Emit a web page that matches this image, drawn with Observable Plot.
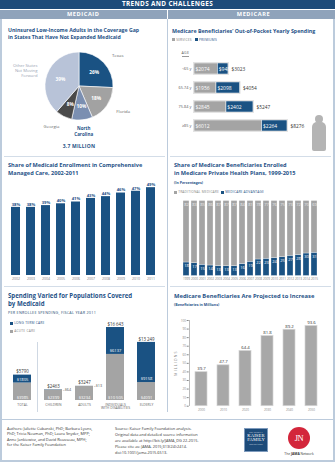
<!DOCTYPE html>
<html><head><meta charset="utf-8">
<script src="https://cdn.jsdelivr.net/npm/d3@7"></script>
<script src="https://cdn.jsdelivr.net/npm/@observablehq/plot@0.6"></script>
<style>
body{margin:0;background:#fff;}
#c{position:relative;width:335px;height:462px;overflow:hidden;font-family:"Open Sans","Noto Sans",sans-serif;background:#fff}
.a{position:absolute;white-space:nowrap;line-height:1}
.sq{display:inline-block;width:3px;height:3px;vertical-align:middle;margin-right:1.2px;position:relative;top:-0.3px}
svg{display:block}
</style></head>
<body><div id="c"></div>
<script>
// ---------- DATA ----------
const pieStates = ["Texas", "Florida", "North\nCarolina", "Georgia", "Other States\nNot Moving\nForward"];
const pieShares = [26, 18, 10, 8, 39];
const pieTotalLabel = "3.7 MILLION";

const oopAges = ["<65 y", "65-74 y", "75-84 y", "≥85 y"];
const oopServices = [2074, 1956, 2845, 6012];
const oopPremiums = [948, 2098, 2402, 2264];
const oopTotals = [3023, 4054, 5247, 8276];

const mcYears = ["2002","2003","2004","2005","2006","2007","2008","2009","2010","2011"];
const mcShares = [38, 38, 39, 40, 41, 43, 44, 46, 47, 49];

const maYears = ["1999","2000","2001","2002","2003","2004","2005","2006","2007","2008","2009","2010","2011","2012","2013","2014","2015"];
const tmShares = [82, 83, 85, 86, 87, 87, 87, 84, 81, 78, 77, 76, 75, 73, 72, 70, 69];
const maShares = [18, 17, 15, 14, 13, 13, 13, 16, 19, 22, 23, 24, 25, 27, 28, 30, 31];

const popGroups = ["TOTAL", "CHILDREN", "ADULTS", "INDIVIDUALS\nWITH DISABILITIES", "ELDERLY"];
const acuteCare = [3985, 2399, 3234, 10505, 4091];
const longTermCare = [1805, 64, 13, 6137, 9158];
const popTotals = [5790, 2463, 3247, 16643, 13249];

const projYears = ["2000", "2010", "2020", "2030", "2040", "2050"];
const projBenef = [39.7, 47.7, 64.4, 81.8, 89.2, 93.6];

// ---------- STYLE ----------
const FONT = "'Open Sans','Noto Sans',sans-serif";
const BLUE = "#1a5283", GRAY = "#a4a4a4", TITLE = "#1f5287", NAVY = "#1d4b7a", LINE = "#bccbdc";
const pieColors = [BLUE, "#a2a2a2", "#7b8fb1", "#4a4a4a", "#b8c3d8"];
const money = v => "$" + (v >= 10000 ? d3.format(",")(v).replace(",", " ") : v);

const C = document.getElementById("c");
function box(left, top, w, h, css) { const d = document.createElement("div"); d.style.cssText = `position:absolute;left:${left}px;top:${top}px;width:${w}px;height:${h}px;${css||""}`; C.appendChild(d); return d; }
function txt(html, left, top, css) { const d = document.createElement("div"); d.className = "a"; d.style.left = left + "px"; d.style.top = top + "px"; d.style.cssText += css || ""; d.innerHTML = html; C.appendChild(d); return d; }
function plotAt(opts, left, top) { const el = Plot.plot(opts); el.style.position = "absolute"; el.style.left = left + "px"; el.style.top = top + "px"; el.style.overflow = "visible"; C.appendChild(el); return el; }
const baseStyle = fs => ({fontFamily: FONT, fontSize: fs + "px", background: "transparent", color: "#777", overflow: "visible"});

// ---------- FRAME ----------
box(0, 0, 335, 8.5, `background:${NAVY}`);
txt("TRENDS AND CHALLENGES", 0, 0, "width:335px;text-align:center;color:#fff;font-weight:700;font-size:6.4px;line-height:8.5px;letter-spacing:0.35px");
box(0, 9.5, 166.5, 9.3, "background:#8fa3bb");
box(168, 9.5, 167, 9.3, "background:#8fa3bb");
txt("MEDICAID", 0, 9.5, "width:166.5px;text-align:center;color:#fff;font-weight:700;font-size:5.6px;line-height:9.3px;letter-spacing:0.6px");
txt("MEDICARE", 170, 9.5, "width:167px;text-align:center;color:#fff;font-weight:700;font-size:5.6px;line-height:9.3px;letter-spacing:0.6px");
box(0, 18.8, 335, 443.2, `border:2px solid ${LINE};border-top:none;box-sizing:border-box`);
box(166.6, 18.8, 1.4, 393, `background:${LINE}`);
box(2, 418.5, 331, 0.9, `background:${LINE}`);
box(4, 156, 161, 0.7, "background:#d3dde8");
box(170, 156, 161, 0.7, "background:#d3dde8");
box(4, 286, 161, 0.7, "background:#d3dde8");
box(170, 286, 161, 0.7, "background:#d3dde8");

// ---------- SECTION 1 LEFT: PIE ----------
txt("Uninsured Low-Income Adults in the Coverage Gap<br>in States That Have Not Expanded Medicaid", 8, 26.5, `font-size:5.2px;line-height:7px;font-weight:700;color:${TITLE}`);
{
  const W = 163, H = 104, ox = 3, oy = 40;
  const pcx = 79 - ox, pcy = 86 - oy, R = 34;
  const pieData = pieStates.map((s, i) => ({state: s, share: pieShares[i], color: pieColors[i]}));
  const arcs = d3.pie().sort(null).value(d => d.share)(pieData);
  const arcPath = d3.arc().innerRadius(0).outerRadius(R);
  const labIn = d3.arc().innerRadius(R * 0.6).outerRadius(R * 0.6);
  const labOut = d3.arc().innerRadius(R * 1.32).outerRadius(R * 1.32);
  const mid = d => (d.startAngle + d.endAngle) / 2;
  const slices = () => {
    const g = d3.create("svg:g").attr("transform", `translate(${pcx},${pcy})`);
    g.selectAll("path").data(arcs).join("path").attr("d", arcPath).attr("fill", d => d.data.color).attr("stroke", "#fff").attr("stroke-width", 0.6);
    return g.node();
  };
  const ox2 = d => pcx + labOut.centroid(d)[0], oy2 = d => pcy + labOut.centroid(d)[1];
  plotAt({
    width: W, height: H, margin: 0,
    x: {type: "identity", axis: null}, y: {type: "identity", axis: null},
    style: baseStyle(4.5),
    marks: [
      slices,
      Plot.text(arcs, {x: d => pcx + labIn.centroid(d)[0], y: d => pcy + labIn.centroid(d)[1], text: d => d.data.share + "%", fill: "#fff", fontWeight: "bold", fontSize: 4.8}),
      Plot.text(arcs.filter(d => mid(d) < Math.PI * 0.85), {x: ox2, y: oy2, text: d => d.data.state, textAnchor: "start", fill: "#666", fontSize: 4.3}),
      Plot.text(arcs.filter(d => mid(d) >= Math.PI * 0.85 && mid(d) < Math.PI * 1.1), {x: ox2, y: oy2, text: d => d.data.state, textAnchor: "middle", fill: TITLE, fontWeight: "bold", fontSize: 4.5, lineHeight: 1.2}),
      Plot.text(arcs.filter(d => mid(d) >= Math.PI * 1.1 && mid(d) < Math.PI * 1.5), {x: ox2, y: oy2, text: d => d.data.state, textAnchor: "end", fill: "#666", fontSize: 4.3}),
      Plot.text(arcs.filter(d => mid(d) >= Math.PI * 1.5), {x: ox2, y: oy2, text: d => d.data.state, textAnchor: "end", fill: "#9aa3b3", fontSize: 4.2, lineHeight: 1.2})
    ]
  }, ox, oy);
  txt(pieTotalLabel, 0, 143.5, `width:158px;text-align:center;font-size:5px;font-weight:700;color:${TITLE};letter-spacing:0.2px`);
}

// ---------- SECTION 1 RIGHT: OUT-OF-POCKET ----------
txt("Medicare Beneficiaries’ Out-of-Pocket Yearly Spending", 172, 27.5, `font-size:5.3px;line-height:7px;font-weight:700;color:${TITLE}`);
txt(`<span class="sq" style="background:${GRAY}"></span>SERVICES &nbsp;&nbsp;<span class="sq" style="background:${BLUE}"></span><span style="color:${TITLE}">PREMIUMS</span>`, 172, 38.5, "font-size:3.2px;line-height:3.5px;color:#777;letter-spacing:0.2px");
txt("AGE", 181.5, 51, "font-size:3.6px;color:#555;letter-spacing:0.3px;line-height:4px;border-bottom:0.5px solid #999;padding-bottom:0.6px");
{
  const oopRows = oopAges.map((age, i) => ({age, services: oopServices[i], premiums: oopPremiums[i], total: oopTotals[i]}));
  const oopLong = oopRows.flatMap(r => [{age: r.age, type: "SERVICES", value: r.services}, {age: r.age, type: "PREMIUMS", value: r.premiums}]);
  plotAt({
    width: 167, height: 90.3, marginTop: 2.8, marginBottom: 0, marginLeft: 26, marginRight: 20,
    x: {domain: [0, 10770], axis: null},
    y: {domain: oopAges, padding: 0.44, tickSize: 0, tickPadding: 3.2, label: null},
    color: {domain: ["SERVICES", "PREMIUMS"], range: [GRAY, BLUE]},
    style: {...baseStyle(3.8), color: "#555"},
    marks: [
      Plot.barX(oopRows, {x: "total", y: "age", fill: "#d2d2d2", insetTop: -0.8, insetBottom: -0.8, insetLeft: -0.8, insetRight: -0.8}),
      Plot.barX(oopLong, Plot.stackX({x: "value", y: "age", fill: "type", stroke: "#fff", strokeWidth: 0.5})),
      Plot.text(oopLong, Plot.stackX1({x: "value", y: "age", text: d => money(d.value), textAnchor: "start", dx: 0.9, fill: "#fff", fontSize: 5})),
      Plot.text(oopRows, {x: "total", y: "age", text: d => money(d.total), textAnchor: "start", dx: 3, fill: "#333", fontSize: 4.8})
    ]
  }, 168, 50);
  // silhouette
  box(314.5, 114.5, 8, 8, "background:#b4b4b4;border-radius:50%");
  box(311.5, 122, 14, 29, "background:#b4b4b4;border-radius:5px 5px 2px 2px");
}

// ---------- SECTION 2 LEFT: MANAGED CARE ----------
txt("Share of Medicaid Enrollment in Comprehensive<br>Managed Care, 2002-2011", 8, 161, `font-size:5.6px;line-height:8px;font-weight:700;color:${TITLE}`);
{
  const mcData = mcYears.map((year, i) => ({year, share: mcShares[i]}));
  plotAt({
    width: 167, height: 103, marginLeft: 5.4, marginRight: 5, marginTop: 0, marginBottom: 8,
    x: {domain: mcYears, padding: 0.37, tickSize: 0, tickPadding: 2, label: null},
    y: {domain: [0, 53], axis: null},
    style: baseStyle(3.5),
    marks: [
      Plot.barY(mcData, {x: "year", y: "share", fill: BLUE}),
      Plot.text(mcData, {x: "year", y: "share", text: d => d.share + "%", dy: -3, fill: TITLE, fontWeight: "bold", fontSize: 4.2})
    ]
  }, 0, 180);
}

// ---------- SECTION 2 RIGHT: MEDICARE ADVANTAGE ----------
txt("Share of Medicare Beneficiaries Enrolled<br>in Medicare Private Health Plans, 1999-2015", 174, 161, `font-size:5.6px;line-height:8px;font-weight:700;color:${TITLE}`);
txt("(In Percentages)", 174, 181, `font-size:3.6px;line-height:4px;font-weight:700;color:${TITLE}`);
txt(`<span class="sq" style="background:${GRAY}"></span>TRADITIONAL MEDICARE &nbsp;<span class="sq" style="background:${BLUE}"></span><span style="color:${TITLE}">MEDICARE ADVANTAGE</span>`, 174, 190.3, "font-size:3.3px;line-height:3.6px;color:#888;letter-spacing:0.15px");
{
  const maRows = maYears.map((year, i) => ({year, tm: tmShares[i], ma: maShares[i]}));
  const maLong = maRows.flatMap(r => [{year: r.year, type: "MEDICARE ADVANTAGE", value: r.ma}, {year: r.year, type: "TRADITIONAL MEDICARE", value: r.tm}]);
  plotAt({
    width: 167, height: 86, marginLeft: 4.4, marginRight: 8, marginTop: 2.5, marginBottom: 8.5,
    x: {domain: maYears, padding: 0.26, tickSize: 0, tickPadding: 2, label: null},
    y: {domain: [0, 100], axis: null},
    color: {domain: ["TRADITIONAL MEDICARE", "MEDICARE ADVANTAGE"], range: [GRAY, BLUE]},
    style: baseStyle(3.1),
    marks: [
      Plot.barY(maLong, Plot.stackY({x: "year", y: "value", fill: "type", stroke: "#fff", strokeWidth: 0.3})),
      Plot.text(maRows, {x: "year", y: d => d.tm + d.ma, text: "tm", dy: 3.6, fill: "#ececec", fontSize: 4.1}),
      Plot.text(maRows, {x: "year", y: "ma", text: "ma", dy: 3.6, fill: "#fff", fontSize: 4.1})
    ]
  }, 168, 198);
}

// ---------- SECTION 3 LEFT: SPENDING BY POPULATION ----------
txt("Spending Varied for Populations Covered<br>by Medicaid", 8, 292, `font-size:6.1px;line-height:7.5px;font-weight:700;color:${TITLE}`);
txt("PER ENROLLEE SPENDING, FISCAL YEAR 2011", 8, 311.2, "font-size:3.7px;line-height:4px;color:#2b4d73;letter-spacing:0.28px");
txt(`<span class="sq" style="background:${BLUE}"></span>LONG TERM CARE`, 10, 321.3, `font-size:3.3px;line-height:3.6px;color:${TITLE};letter-spacing:0.2px`);
txt(`<span class="sq" style="background:${GRAY}"></span>ACUTE CARE`, 10, 329.3, "font-size:3.3px;line-height:3.6px;color:#888;letter-spacing:0.2px");
{
  const popRows = popGroups.map((g, i) => ({group: g, acute: acuteCare[i], ltc: longTermCare[i], total: popTotals[i]}));
  const popLong = popRows.flatMap(r => [{group: r.group, type: "ACUTE CARE", value: r.acute}, {group: r.group, type: "LONG TERM CARE", value: r.ltc}]);
  plotAt({
    width: 167, height: 95, marginLeft: 8.3, marginRight: 7.3, marginTop: 0, marginBottom: 13,
    x: {domain: popGroups, paddingInner: 0.43, paddingOuter: 0.1, axis: null},
    y: {domain: [0, 18700], axis: null},
    color: {domain: ["LONG TERM CARE", "ACUTE CARE"], range: [BLUE, GRAY]},
    style: baseStyle(3.4),
    marks: [
      Plot.barY(popLong, Plot.stackY({x: "group", y: "value", fill: "type"})),
      Plot.text(popRows, {x: "group", y: "total", text: d => money(d.total), dy: -3.3, fill: "#333", fontSize: 4.4}),
      Plot.text(popRows, {x: "group", y: 0, text: d => money(d.acute), dy: -3, fill: "#fff", fontSize: 4.1}),
      Plot.text(popRows.filter(d => d.ltc > 1000), {x: "group", y: "acute", text: d => money(d.ltc), dy: -3.4, fill: "#fff", fontSize: 4.1}),
      Plot.text(popRows.filter(d => d.ltc <= 1000), {x: "group", y: "total", text: d => "–" + money(d.ltc), textAnchor: "start", dx: 9.3, fill: "#555", fontSize: 3.8}),
      Plot.text(popRows, {x: "group", frameAnchor: "bottom", text: "group", lineAnchor: "top", dy: 2.6, fill: "#666", fontSize: 3.4, lineHeight: 1.1})
    ]
  }, 0, 318);
  box(37, 342, 0.7, 70, "background:#cfd8e3");
}

// ---------- SECTION 3 RIGHT: PROJECTED BENEFICIARIES ----------
txt("Medicare Beneficiaries Are Projected to Increase", 174, 292.5, `font-size:5.8px;line-height:7px;font-weight:700;color:${TITLE}`);
txt("(Beneficiaries in Millions)", 174, 303, `font-size:3.6px;line-height:4px;font-weight:700;color:${TITLE}`);
{
  const projData = projYears.map((year, i) => ({year, value: projBenef[i]}));
  plotAt({
    width: 167, height: 98, marginLeft: 20.7, marginRight: 12.7, marginTop: 4, marginBottom: 8.3,
    x: {domain: projYears, paddingInner: 0.47, paddingOuter: 0.19, tickSize: 0, tickPadding: 2.5, label: null},
    y: {domain: [0, 100], ticks: 10, tickSize: 2, tickPadding: 1.2, label: null},
    style: {...baseStyle(3.1), color: "#888"},
    marks: [
      Plot.barY(projData, {x: "year", y: "value", fill: "#a8a8a8", stroke: "#d4d4d4", strokeWidth: 0.7}),
      Plot.text(projData, {x: "year", y: "value", text: d => d.value.toFixed(1), dy: -3.6, fill: "#333", fontSize: 4.3})
    ]
  }, 168, 316);
  box(188.6, 320, 0.6, 86, "background:#bbb");
  txt("MILLIONS", 160, 361, "width:32px;text-align:center;font-size:3.6px;line-height:4px;color:#888;letter-spacing:1.1px;transform:rotate(-90deg)");
}

// ---------- FOOTER ----------
txt("Authors: Juliette Cubanski, PhD; Barbara Lyons,<br>PhD; Tricia Neuman, PhD; Laura Snyder, MPP;<br>Anne Jankiewicz, and David Rousseau, MPH;<br>for the Kaiser Family Foundation", 7, 425.5, "font-size:3.9px;line-height:5.5px;color:#333");
txt("Source: Kaiser Family Foundation analysis.<br>Original data and detailed source information<br>are available at http://bit.ly/JAMA_DG 22-2015.<br>Please cite as: JAMA. 2015;313(24):2414.<br>doi:10.1001/jama.2015.6513.", 115, 425.5, "font-size:3.9px;line-height:6px;color:#333");
box(244, 428, 24, 24, `background:${NAVY};border:0.6px solid #7f9bbd;box-sizing:border-box`);
txt("THE HENRY J.<br><span style='font-size:4.6px;line-height:4.6px'>KAISER<br>FAMILY</span><br>FOUNDATION", 244, 431, "width:24px;text-align:center;color:#fff;font-family:'Liberation Serif',serif;font-size:1.9px;line-height:2.6px;letter-spacing:0.15px");
box(288, 426.5, 22, 22, "background:#d3263b;border-radius:50%");
txt("JN", 288, 426.5, "width:22px;text-align:center;color:#fff;font-family:'Liberation Serif',serif;font-size:8.5px;line-height:22px;letter-spacing:-0.5px");
txt("The <b>JAMA</b> Network", 279, 451.5, "width:40px;text-align:center;font-size:3.3px;color:#333;line-height:4px");
</script></body></html>
